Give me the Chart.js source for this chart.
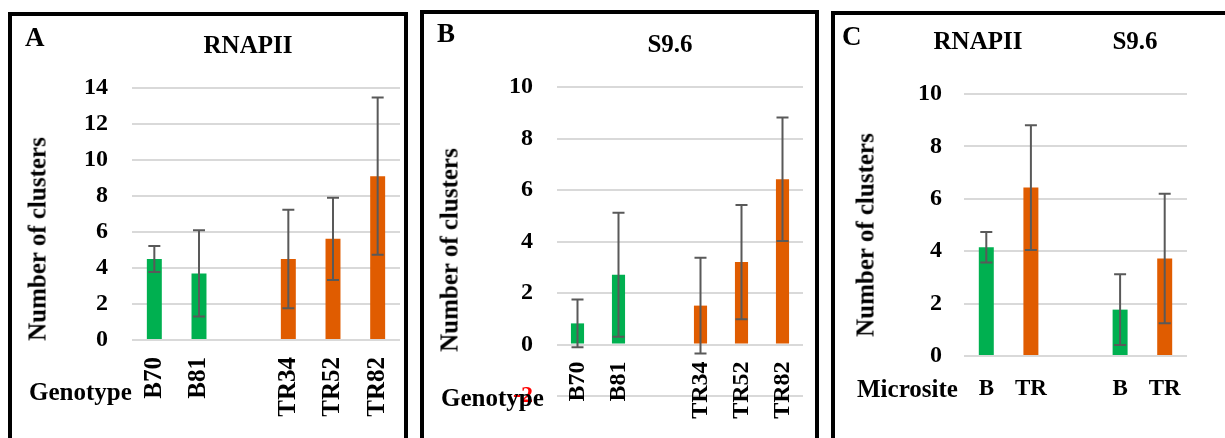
<!DOCTYPE html>
<html>
<head>
<meta charset="utf-8">
<script src="https://cdn.jsdelivr.net/npm/chart.js@4.4.1/dist/chart.umd.min.js"></script>
<style>
  html, body { margin: 0; padding: 0; background: #fff; }
  body { width: 1225px; height: 438px; position: relative; overflow: hidden; }
  .frame { position: absolute; border: 4px solid #000; box-sizing: border-box; }
  canvas { position: absolute; top: 0; }
  .t {
    position: absolute; font-family: "Liberation Serif", "Times New Roman", serif;
    font-weight: bold; white-space: nowrap; line-height: 1; color: #000;
  }
  .c { transform: translateX(-50%); }
  .rot { transform: translate(-50%, -50%) rotate(-90deg); }
</style>
</head>
<body>
<div class="frame" style="left:8px;top:12px;width:400px;height:460px"></div>
<div class="frame" style="left:420px;top:10px;width:399px;height:460px"></div>
<div class="frame" style="left:831px;top:11px;width:420px;height:460px"></div>

<canvas id="chartA" width="410" height="438" style="left:0"></canvas>
<canvas id="chartB" width="410" height="438" style="left:410px"></canvas>
<canvas id="chartC" width="400" height="438" style="left:825px"></canvas>

<div class="t" style="left:25px;top:24px;font-size:27px">A</div>
<div class="t c" style="left:248px;top:32px;font-size:25px">RNAPII</div>
<div class="t rot" style="left:37px;top:239px;font-size:25px">Number of clusters</div>
<div class="t" style="left:29px;top:379px;font-size:25px">Genotype</div>

<div class="t" style="left:437px;top:20px;font-size:27px">B</div>
<div class="t c" style="left:670px;top:31px;font-size:25px">S9.6</div>
<div class="t rot" style="left:449px;top:250px;font-size:25px">Number of clusters</div>
<div class="t" style="left:441px;top:385px;font-size:25px">Genotype</div>

<div class="t" style="left:842px;top:23px;font-size:27px">C</div>
<div class="t c" style="left:978px;top:28px;font-size:25px">RNAPII</div>
<div class="t c" style="left:1135px;top:28px;font-size:25px">S9.6</div>
<div class="t rot" style="left:865px;top:235px;font-size:25px">Number of clusters</div>
<div class="t" style="left:857px;top:376px;font-size:25px">Microsite</div>

<script>
// Panel A / B: genotypes
const genotypes = ["B70", "B81", "", "TR34", "TR52", "TR82"];
const rnapiiMeans = [4.5, 3.7, null, 4.5, 5.62, 9.1];
const rnapiiErrors = [0.72, 2.4, null, 2.74, 2.28, 4.37];
const s96Means = [0.82, 2.71, null, 1.51, 3.2, 6.42];
const s96Errors = [0.93, 2.41, null, 1.86, 2.22, 2.4];

// Panel C: microsite (RNAPII pair, then S9.6 pair)
const microsites = ["B", "TR", "", "B", "TR"];
const micrositeMeans = [4.15, 6.43, null, 1.77, 3.72];
const micrositeErrors = [0.58, 2.38, null, 1.35, 2.47];

const GREEN = "#00B050";
const ORANGE = "#E05C00";
const genotypeColors = [GREEN, GREEN, GREEN, ORANGE, ORANGE, ORANGE];
const micrositeColors = [GREEN, ORANGE, GREEN, GREEN, ORANGE];

const FONT = "'Liberation Serif', 'Times New Roman', serif";

// error bars drawn from the y scale
const errorBars = {
  id: "errorBars",
  afterDatasetsDraw(chart) {
    const ctx = chart.ctx;
    const ds = chart.data.datasets[0];
    const meta = chart.getDatasetMeta(0);
    const y = chart.scales.y;
    ctx.save();
    ctx.strokeStyle = "#595959";
    ctx.lineWidth = 2;
    ds.data.forEach((v, i) => {
      const e = ds.errors[i];
      if (v == null || e == null) return;
      const x = meta.data[i].x;
      const top = y.getPixelForValue(v + e);
      const bot = y.getPixelForValue(v - e);
      ctx.beginPath();
      ctx.moveTo(x, top); ctx.lineTo(x, bot);
      ctx.moveTo(x - 6, top); ctx.lineTo(x + 6, top);
      ctx.moveTo(x - 6, bot); ctx.lineTo(x + 6, bot);
      ctx.stroke();
    });
    ctx.restore();
  }
};

function makePanel(id, cfg) {
  return new Chart(document.getElementById(id), {
    type: "bar",
    data: {
      labels: cfg.labels,
      datasets: [{
        data: cfg.means,
        errors: cfg.errors,
        backgroundColor: cfg.colors,
        categoryPercentage: 1,
        barPercentage: cfg.barPct
      }]
    },
    options: {
      responsive: false,
      animation: false,
      layout: {
        autoPadding: false,
        padding: { left: 0, top: cfg.top, right: cfg.right, bottom: cfg.bottom }
      },
      plugins: { legend: { display: false }, tooltip: { enabled: false } },
      scales: {
        x: {
          position: { y: 0 },
          afterFit: (s) => { s.paddingLeft = 0; s.paddingRight = 0; },
          grid: { display: false, drawTicks: false },
          border: { display: false },
          ticks: {
            autoSkip: false,
            minRotation: cfg.rotation,
            maxRotation: cfg.rotation,
            padding: cfg.xPad,
            color: "#000",
            font: { family: FONT, size: cfg.xFont, weight: "bold" }
          }
        },
        y: {
          min: cfg.yMin,
          max: cfg.yMax,
          afterFit: (s) => { s.width = cfg.yWidth; },
          grid: { color: "#d9d9d9", lineWidth: 2, drawTicks: false },
          border: { display: false },
          ticks: {
            stepSize: 2,
            padding: cfg.tickPad,
            color: (c) => (c.tick.value < 0 ? "#ff0000" : "#000"),
            font: { family: FONT, size: 24, weight: "bold" }
          }
        }
      }
    },
    plugins: [errorBars]
  });
}

makePanel("chartA", {
  labels: genotypes, means: rnapiiMeans, errors: rnapiiErrors, colors: genotypeColors,
  barPct: 0.335, yMin: 0, yMax: 14, yWidth: 132, tickPad: 24,
  top: 88, right: 10, bottom: 98, rotation: 90, xFont: 25, xPad: 17
});

makePanel("chartB", {
  labels: genotypes, means: s96Means, errors: s96Errors, colors: genotypeColors,
  barPct: 0.32, yMin: -2, yMax: 10, yWidth: 147, tickPad: 24,
  top: 87, right: 17, bottom: 42, rotation: 90, xFont: 24, xPad: 17
});

makePanel("chartC", {
  labels: microsites, means: micrositeMeans, errors: micrositeErrors, colors: micrositeColors,
  barPct: 0.336, yMin: 0, yMax: 10, yWidth: 139, tickPad: 22,
  top: 94, right: 38, bottom: 82, rotation: 0, xFont: 23, xPad: 19
});
</script>
</body>
</html>
